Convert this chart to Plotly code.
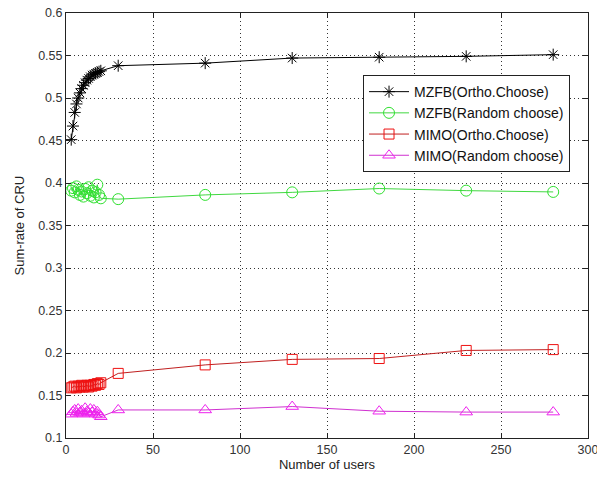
import plotly.graph_objects as go

x_cluster = list(range(3, 21))
x_far = [30, 80, 130, 180, 230, 280]
x_vals = x_cluster + x_far

mzfb_ortho = [0.451, 0.467, 0.483, 0.493, 0.500, 0.506, 0.511, 0.515, 0.518, 0.521,
              0.523, 0.525, 0.527, 0.528, 0.529, 0.530, 0.531, 0.532,
              0.538, 0.541, 0.547, 0.548, 0.549, 0.551]
mzfb_random = [0.391, 0.394, 0.389, 0.396, 0.392, 0.386, 0.390, 0.384, 0.393, 0.388,
               0.395, 0.385, 0.391, 0.383, 0.389, 0.398, 0.386, 0.382,
               0.381, 0.386, 0.389, 0.3935, 0.391, 0.3895]
mimo_ortho = [0.159, 0.160, 0.161, 0.159, 0.161, 0.160, 0.162, 0.160, 0.161, 0.162,
              0.160, 0.162, 0.161, 0.163, 0.162, 0.164, 0.163, 0.165,
              0.176, 0.186, 0.1925, 0.1935, 0.203, 0.204]
mimo_random = [0.128, 0.131, 0.133, 0.129, 0.134, 0.130, 0.132, 0.128, 0.135, 0.131,
               0.129, 0.134, 0.130, 0.133, 0.128, 0.131, 0.127, 0.125,
               0.133, 0.133, 0.137, 0.1315, 0.1305, 0.1305]

series = [
    ("MZFB(Ortho.Choose)", mzfb_ortho, "#000000", "#000000", "asterisk-open", 10),
    ("MZFB(Random choose)", mzfb_random, "#40d840", "#30e030", "circle-open", 11),
    ("MIMO(Ortho.Choose)", mimo_ortho, "#c02020", "#ee1010", "square-open", 10),
    ("MIMO(Random choose)", mimo_random, "#d030d0", "#ee22ee", "triangle-up-open", 11),
]

fig = go.Figure()
for name, ys, lc, mc, sym, sz in series:
    fig.add_trace(go.Scatter(
        x=x_vals, y=ys, name=name, mode="lines+markers",
        line=dict(color=lc, width=1),
        marker=dict(symbol=sym, size=sz, color=mc, line=dict(width=1, color=mc)),
    ))

axis_common = dict(
    showgrid=True, gridcolor="#333333", griddash="1px,3px", gridwidth=1,
    showline=True, linecolor="#222222", linewidth=1, mirror="allticks",
    ticks="inside", ticklen=5, tickcolor="#222222",
    tickfont=dict(family="Liberation Sans, Arial", size=12.5, color="#333333"),
    zeroline=False, ticklabeloverflow="allow", automargin=False,
)

fig.update_layout(
    width=597, height=479,
    margin=dict(l=66, r=9, t=13, b=41),
    paper_bgcolor="white", plot_bgcolor="white",
    font=dict(family="Liberation Sans, Arial", size=12, color="#222222"),
    xaxis=dict(range=[0, 300], dtick=50,
               title=dict(text="Number of users", standoff=2,
                          font=dict(size=13, color="#222222")),
               **axis_common),
    yaxis=dict(range=[0.1, 0.6], dtick=0.05, tickformat="~g",
               **axis_common),
    legend=dict(x=0.569, y=0.854, xanchor="left", yanchor="top",
                bgcolor="white", bordercolor="#222222", borderwidth=1,
                font=dict(family="Liberation Sans, Arial", size=14, color="#111111"),
                itemwidth=40, tracegroupgap=0),
    showlegend=True,
    annotations=[dict(
        text="Sum-rate of CRU", textangle=-90, showarrow=False,
        xref="paper", yref="paper", x=-0.09, y=0.5,
        xanchor="center", yanchor="middle",
        font=dict(family="Liberation Sans, Arial", size=13, color="#222222"),
    )],
)

fig.write_html("out.html")
